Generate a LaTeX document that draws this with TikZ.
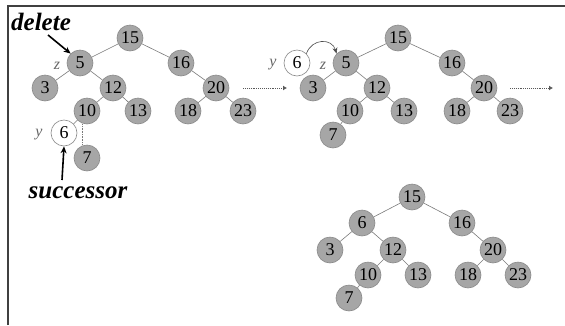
\documentclass[tikz,border=0pt]{standalone}
\usepackage{fontspec}
\setmainfont{Liberation Serif}
\usetikzlibrary{arrows.meta}
\definecolor{nodefill}{HTML}{A6A6A6}
\definecolor{nodeline}{HTML}{8A8A8A}
\definecolor{edgecol}{HTML}{7A7A7A}
\definecolor{framecol}{HTML}{404040}
\tikzset{
  nd/.style={circle,draw=nodeline,fill=nodefill,line width=0.6pt,minimum size=26pt,inner sep=0pt,
    font=\fontsize{18}{18}\selectfont},
  wnd/.style={nd,fill=white},
  edge/.style={draw=edgecol,line width=0.6pt},
  lbl/.style={text=gray!80!black,font=\itshape\fontsize{16}{16}\selectfont,inner sep=0pt},
  big/.style={font=\bfseries\itshape\fontsize{25}{25}\selectfont,inner sep=0pt},
  pointer/.style={line width=1.6pt,-{Stealth[length=7pt,width=6pt]}},
  flow/.style={densely dotted,draw=gray!70!black,line width=0.9pt,-{Latex[length=4pt,width=5pt]}}
}
\begin{document}
\begin{tikzpicture}[x=1pt,y=-1pt]
\useasboundingbox (0,0) rectangle (565,325);
\draw[framecol,line width=1.8pt] (8,325) -- (8,6) -- (565,6);

% left tree
\node[nd] (l15) at (130,38) {15};
\node[nd] (l5) at (80,63) {5};
\node[nd] (l16) at (181,63) {16};
\node[nd] (l3) at (45,88) {3};
\node[nd] (l12) at (113,88) {12};
\node[nd] (l20) at (216,88) {20};
\node[nd] (l10) at (87,111) {10};
\node[nd] (l13) at (138,111) {13};
\node[nd] (l18) at (188,111) {18};
\node[nd] (l23) at (243,111) {23};
\node[wnd] (l6) at (64,133) {6};
\node[nd] (l7) at (87,158) {7};
\node[lbl] (lz) at (57,66) {z};
\node[lbl] (ly) at (39,135) {y};
\draw[edge] (l15) -- (l5);
\draw[edge] (l15) -- (l16);
\draw[edge] (l5) -- (l3);
\draw[edge] (l5) -- (l12);
\draw[edge] (l12) -- (l10);
\draw[edge] (l12) -- (l13);
\draw[edge] (l16) -- (l20);
\draw[edge] (l20) -- (l18);
\draw[edge] (l20) -- (l23);
\draw[edge] (l10) -- (l6);
\draw[edge,densely dotted] ([xshift=-5pt]l10.south) -- ([xshift=-5pt]l7.north);

\node[big] (del) at (41,22) {delete};
\coordinate (delt) at (48,35);
\draw[pointer] (delt) -- (l5.north west);
\node[big] (succ) at (78,193) {successor};
\coordinate (succt) at (62,180);
\draw[pointer] (succt) -- (l6.south);

% arrows between
\coordinate (f1a) at (243,88);
\coordinate (f1b) at (287,88);
\draw[flow] (f1a) -- (f1b);
\coordinate (f2a) at (510,88);
\coordinate (f2b) at (553,88);
\draw[flow] (f2a) -- (f2b);

% middle tree
\node[wnd] (m6) at (297,63) {6};
\node[lbl] (my) at (273,65) {y};
\node[lbl] (mz) at (323,66) {z};
\node[nd] (m15) at (398,38) {15};
\node[nd] (m5) at (346,63) {5};
\node[nd] (m16) at (452,63) {16};
\node[nd] (m3) at (313,88) {3};
\node[nd] (m12) at (377,88) {12};
\node[nd] (m20) at (484,88) {20};
\node[nd] (m10) at (350,111) {10};
\node[nd] (m13) at (404,111) {13};
\node[nd] (m18) at (457,111) {18};
\node[nd] (m23) at (510,111) {23};
\node[nd] (m7) at (333,135) {7};
\draw[edge] (m15) -- (m5);
\draw[edge] (m15) -- (m16);
\draw[edge] (m5) -- (m3);
\draw[edge] (m5) -- (m12);
\draw[edge] (m12) -- (m10);
\draw[edge] (m12) -- (m13);
\draw[edge] (m10) -- (m7);
\draw[edge] (m16) -- (m20);
\draw[edge] (m20) -- (m18);
\draw[edge] (m20) -- (m23);
\draw[edge,-{Stealth[length=6pt,width=5pt]},draw=gray!60!black] (m6.north east) .. controls (312,38) and (332,38) .. (m5.north west);

% bottom tree
\node[nd] (b15) at (412,197) {15};
\node[nd] (b6) at (362,223) {6};
\node[nd] (b16) at (462,223) {16};
\node[nd] (b3) at (330,250) {3};
\node[nd] (b12) at (393,250) {12};
\node[nd] (b20) at (493,250) {20};
\node[nd] (b10) at (368,275) {10};
\node[nd] (b13) at (418,275) {13};
\node[nd] (b18) at (468,275) {18};
\node[nd] (b23) at (518,275) {23};
\node[nd] (b7) at (349,298) {7};
\draw[edge] (b15) -- (b6);
\draw[edge] (b15) -- (b16);
\draw[edge] (b6) -- (b3);
\draw[edge] (b6) -- (b12);
\draw[edge] (b12) -- (b10);
\draw[edge] (b12) -- (b13);
\draw[edge] (b10) -- (b7);
\draw[edge] (b16) -- (b20);
\draw[edge] (b20) -- (b18);
\draw[edge] (b20) -- (b23);
\end{tikzpicture}
\end{document}
